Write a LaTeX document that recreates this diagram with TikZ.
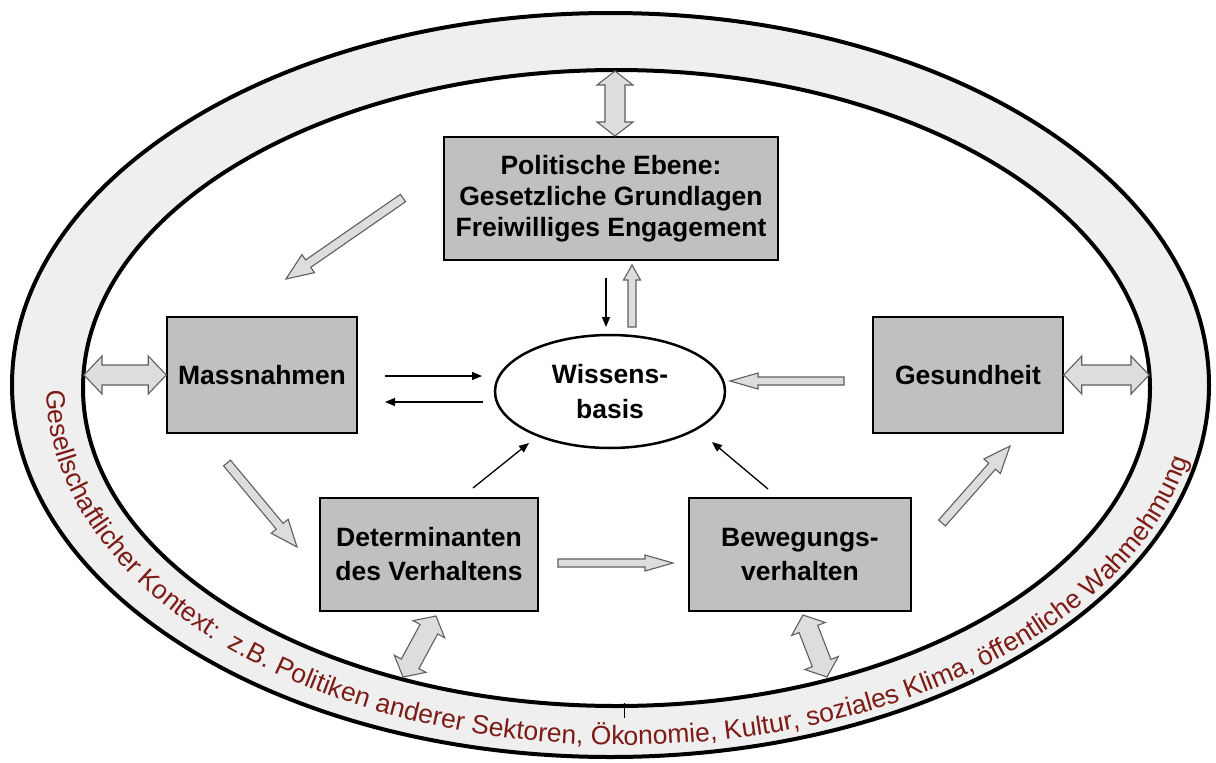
\documentclass[tikz,border=0pt]{standalone}
\usepackage{fontspec}
\setmainfont{Liberation Sans}
\usetikzlibrary{calc,shapes.geometric,decorations.text,arrows.meta}
\definecolor{ringgray}{RGB}{239,239,239}
\definecolor{boxgray}{RGB}{192,192,192}
\definecolor{arrfill}{RGB}{221,221,221}
\definecolor{arredge}{RGB}{95,95,95}
\definecolor{ctxred}{RGB}{125,28,22}
% single block arrow: from, to, shaft half width, head half width, head length
\newcommand{\sglarrow}[5]{%
  \coordinate (bh) at ($(#2)!#5!(#1)$);
  \draw[blk] ($(#1)!#3!90:(#2)$) -- ($(bh)!#3!90:(#2)$) -- ($(bh)!#4!90:(#2)$) -- (#2)
    -- ($(bh)!#4!-90:(#2)$) -- ($(bh)!#3!-90:(#2)$) -- ($(#1)!#3!-90:(#2)$) -- cycle;}
% double block arrow
\newcommand{\dblarrow}[5]{%
  \coordinate (bha) at ($(#1)!#5!(#2)$);
  \coordinate (bhb) at ($(#2)!#5!(#1)$);
  \draw[blk] (#1) -- ($(bha)!#4!90:(#2)$) -- ($(bha)!#3!90:(#2)$) -- ($(bhb)!#3!90:(#2)$)
    -- ($(bhb)!#4!90:(#2)$) -- (#2) -- ($(bhb)!#4!-90:(#2)$) -- ($(bhb)!#3!-90:(#2)$)
    -- ($(bha)!#3!-90:(#2)$) -- ($(bha)!#4!-90:(#2)$) -- cycle;}
\begin{document}
\begin{tikzpicture}[x=1pt,y=-1pt,
  box/.style={draw=black, line width=1.5pt, fill=boxgray, inner sep=0pt, align=center,
    font=\bfseries\fontsize{26.5}{31}\selectfont},
  blk/.style={draw=arredge, line width=1.1pt, fill=arrfill, line join=miter},
  thinarr/.style={draw=black, line width=1.3pt, -{Triangle[length=10pt,width=8pt]}},
]
\fill[white] (0,0) rectangle (1216,763);
\useasboundingbox (0,0) rectangle (1216,763);

% ring
\draw[line width=4pt, fill=ringgray] (610.5,385) ellipse [x radius=598.5, y radius=372];
\draw[line width=4pt, fill=white] (616.5,388) ellipse [x radius=533.5, y radius=318];
\draw[line width=1pt] (624,703) -- (624,718);

% curved context text
\path[decorate, decoration={text along path, text color=ctxred, text align=left,
  text={|\fontsize{26.5}{30}\selectfont|Gesellschaftlicher Kontext: {\ }z.B. Politiken anderer Sektoren, Ökonomie, Kultur, soziales Klima, öffentliche Wahmehmung}}]
  (47,390) arc [start angle=180, end angle=-14, x radius=576, y radius=355];

% nodes
\node[box, minimum width=334pt, minimum height=123pt] (pol) at (611,198.5)
  {Politische Ebene:\\Gesetzliche Grundlagen\\Freiwilliges Engagement};
\node[box, minimum width=190pt, minimum height=116pt] (mass) at (262,375) {Massnahmen};
\node[box, minimum width=190pt, minimum height=116pt] (ges) at (968,375) {Gesundheit};
\node[box, minimum width=218pt, minimum height=113pt,
  font=\bfseries\fontsize{26.5}{34}\selectfont] (det) at (429,554.5) {Determinanten\\des Verhaltens};
\node[box, minimum width=222pt, minimum height=113pt,
  font=\bfseries\fontsize{26.5}{34}\selectfont] (bew) at (800,554.5) {Bewegungs-\\verhalten};
\node[ellipse, draw=black, line width=2.5pt, fill=white, minimum width=230pt, minimum height=113pt,
  inner sep=0pt, align=center, font=\bfseries\fontsize{26.5}{35}\selectfont] (wiss) at (610,391.5) {Wissens-\\basis};

% coordinates
\coordinate (topA) at (615,71);
\coordinate (topB) at (615,136);
\coordinate (lA) at (84,375);
\coordinate (rA) at (1149,375);
\coordinate (dA) at (436,616);
\coordinate (dB) at (403,677);
\coordinate (bA) at (803,615);
\coordinate (bB) at (827,677);
\coordinate (upA) at (632,327);
\coordinate (upB) at (632,265);
\coordinate (gA) at (844,381);
\coordinate (gB) at (730,381);
\coordinate (pmA) at (403,198);
\coordinate (pmB) at (286,279);
\coordinate (mdA) at (227,463);
\coordinate (mdB) at (297,547);
\coordinate (dbA) at (558,563);
\coordinate (dbB) at (673,563);
\coordinate (bgA) at (942,523);
\coordinate (bgB) at (1010,446);
\coordinate (t1a) at (606,278);
\coordinate (t1b) at (606,327);
\coordinate (t2a) at (385,376);
\coordinate (t2b) at (482,376);
\coordinate (t3a) at (483,402);
\coordinate (t3b) at (385,402);
\coordinate (t4a) at (473,488);
\coordinate (t4b) at (529,443);
\coordinate (t5a) at (768,489);
\coordinate (t5b) at (712,442);

% block arrows
\dblarrow{topA}{topB}{10pt}{18pt}{14pt}
\dblarrow{lA}{mass.west}{10pt}{19pt}{18pt}
\dblarrow{ges.east}{rA}{10pt}{19pt}{18pt}
\dblarrow{dA}{dB}{10pt}{18pt}{15pt}
\dblarrow{bA}{bB}{10pt}{18pt}{15pt}
\sglarrow{upA}{upB}{4pt}{8.5pt}{15pt}
\sglarrow{gA}{gB}{4pt}{8pt}{28pt}
\sglarrow{pmA}{pmB}{4.5pt}{11pt}{27pt}
\sglarrow{mdA}{mdB}{4.5pt}{11pt}{27pt}
\sglarrow{dbA}{dbB}{4pt}{8pt}{28pt}
\sglarrow{bgA}{bgB}{4.5pt}{11pt}{27pt}

% thin arrows
\draw[thinarr] (t1a) -- (t1b);
\draw[thinarr] (t2a) -- (t2b);
\draw[thinarr] (t3a) -- (t3b);
\draw[thinarr] (t4a) -- (t4b);
\draw[thinarr] (t5a) -- (t5b);
\end{tikzpicture}
\end{document}
